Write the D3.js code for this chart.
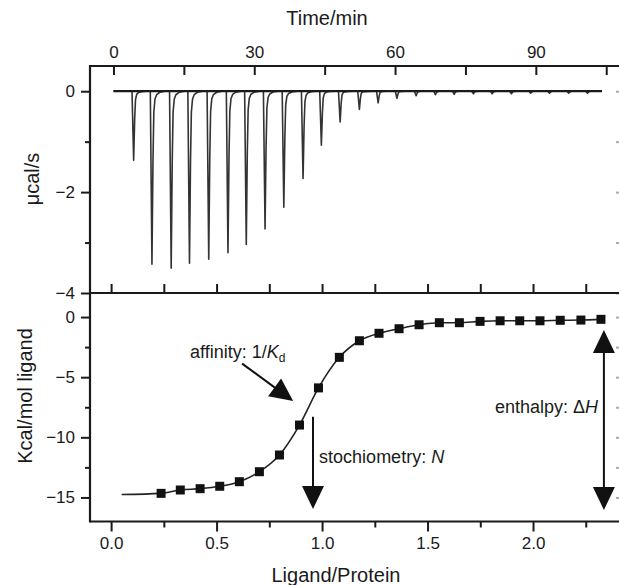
<!DOCTYPE html>
<html><head><meta charset="utf-8">
<script src="https://cdn.jsdelivr.net/npm/d3@7"></script>
<style>
body{margin:0;background:#fff}
svg{display:block}
text{font-family:"Liberation Sans",Arial,Helvetica,sans-serif;fill:#1a1a1a}
</style>
</head><body>
<svg id="c" width="619" height="585"></svg>
<script>
// ---------- data ----------
// Upper panel: raw ITC thermogram, one exothermic peak per injection
const injectionTimes = [4.3, 8.2, 12.3, 16.2, 20.3, 24.4, 28.3, 32.3, 36.3, 40.4, 44.3, 48.3, 52.4,
                        56.4, 60.4, 64.5, 68.6, 72.6, 76.7, 80.7, 84.8, 88.9, 92.9, 97.0, 101.0];
const peakHeights = [-1.37, -3.43, -3.51, -3.41, -3.33, -3.20, -3.04, -2.73, -2.30, -1.73, -1.07, -0.61, -0.36,
                     -0.23, -0.14, -0.09, -0.07, -0.06, -0.05, -0.05, -0.05, -0.04, -0.04, -0.04, -0.04];
// shape of one peak (minutes relative to the peak, fraction of peak depth)
const peakProfileTime = [-0.35, 0, 0.22, 0.4, 0.65, 1.0, 1.7, 2.8];
const peakProfileFrac = [0, 1, 0.4, 0.12, 0.045, 0.02, 0.006, 0];
const baselineTimes = [0, 104.1];

// Lower panel: integrated heats
const molarRatio = [0.237, 0.328, 0.422, 0.515, 0.608, 0.703, 0.798, 0.893, 0.983, 1.082, 1.177, 1.270,
                    1.365, 1.460, 1.556, 1.651, 1.749, 1.844, 1.937, 2.033, 2.129, 2.227, 2.322];
const heatPerMol = [-14.66, -14.38, -14.27, -14.07, -13.69, -12.86, -11.47, -8.98, -5.89, -3.35, -1.97, -1.35,
                    -0.97, -0.64, -0.47, -0.47, -0.36, -0.31, -0.31, -0.31, -0.27, -0.25, -0.19];
const fitRatio = [0.05].concat(molarRatio);
const fitHeat = [-14.75].concat(heatPerMol);

// ticks
const timeTicks = [0, 30, 60, 90];
const timeMinorTicks = [15, 45, 75, 105];
const powerTicks = [0, -2, -4];
const powerMinorTicks = [-1, -3];
const ratioTicks = [0, 0.5, 1.0, 1.5, 2.0];
const ratioMinorTicks = [0.25, 0.75, 1.25, 1.75, 2.25];
const ratioAllTicks = [0, 0.25, 0.5, 0.75, 1.0, 1.25, 1.5, 1.75, 2.0, 2.25];
const heatTicks = [0, -5, -10, -15];
const heatMinorTicks = [-2.5, -7.5, -12.5];

// annotations (data units of the lower panel)
const affinityArrow = [[0.621, -3.87], [0.863, -6.98]];
const affinityLabel = [0.374, -3.41];
const stoichArrow = [[0.957, -8.29], [0.957, -15.96]];
const stoichLabel = [0.986, -12.14];
const enthalpyArrow = [[2.336, -1.08], [2.336, -16.04]];
const enthalpyLabel = [2.308, -7.98];

// ---------- layout ----------
const L = 90, R = 625, T1 = 66, B1 = 293, B2 = 521.5;
const svg = d3.select("#c");

const xTime = d3.scaleLinear().domain([-5, 109]).range([L, R]);
const yPow = d3.scaleLinear().domain([-4, 0.5]).range([B1, T1]);
const xRat = d3.scaleLinear().domain([-0.1, 2.436]).range([L, R]);
const yHeat = d3.scaleLinear().domain([-17, 2]).range([B2, B1]);

const fmtNum = d => d3.format("")(d);
const fmtRat = d3.format(".1f");

function styleAxis(g, color) {
  g.select(".domain").remove();
  g.selectAll("line").attr("stroke", color || "#1a1a1a").attr("stroke-width", 2);
  g.selectAll("text").attr("font-size", 17).attr("fill", "#1a1a1a").attr("font-family", null);
}

// ---------- upper panel axes ----------
svg.append("g").attr("transform", `translate(0,${T1})`)
  .call(d3.axisTop(xTime).tickValues(timeTicks).tickSize(-9).tickPadding(8).tickFormat(fmtNum))
  .call(g => styleAxis(g));
svg.append("g").attr("transform", `translate(0,${T1})`)
  .call(d3.axisTop(xTime).tickValues(timeMinorTicks).tickSize(-9).tickFormat(""))
  .call(g => styleAxis(g));
svg.append("g").attr("transform", `translate(${L},0)`)
  .call(d3.axisLeft(yPow).tickValues(powerTicks).tickSize(9).tickPadding(6).tickFormat(fmtNum))
  .call(g => styleAxis(g));
svg.append("g").attr("transform", `translate(${L},0)`)
  .call(d3.axisLeft(yPow).tickValues(powerMinorTicks).tickSize(5).tickFormat(""))
  .call(g => styleAxis(g));
svg.append("g").attr("transform", `translate(${R},0)`)
  .call(d3.axisRight(yPow).tickValues(powerTicks.concat(powerMinorTicks)).tickSize(-9).tickFormat(""))
  .call(g => styleAxis(g, "#aaa"));

// ---------- lower panel axes ----------
svg.append("g").attr("transform", `translate(0,${B1})`)
  .call(d3.axisBottom(xRat).tickValues(ratioAllTicks).tickSize(-9).tickFormat(""))
  .call(g => styleAxis(g));
svg.append("g").attr("transform", `translate(0,${B2})`)
  .call(d3.axisBottom(xRat).tickValues(ratioTicks).tickSize(10).tickPadding(5).tickFormat(fmtRat))
  .call(g => styleAxis(g));
svg.append("g").attr("transform", `translate(0,${B2})`)
  .call(d3.axisBottom(xRat).tickValues(ratioMinorTicks).tickSize(6).tickFormat(""))
  .call(g => styleAxis(g));
svg.append("g").attr("transform", `translate(${L},0)`)
  .call(d3.axisLeft(yHeat).tickValues(heatTicks).tickSize(9).tickPadding(6).tickFormat(fmtNum))
  .call(g => styleAxis(g));
svg.append("g").attr("transform", `translate(${L},0)`)
  .call(d3.axisLeft(yHeat).tickValues(heatMinorTicks).tickSize(5).tickFormat(""))
  .call(g => styleAxis(g));
svg.append("g").attr("transform", `translate(${R},0)`)
  .call(d3.axisRight(yHeat).tickValues(heatTicks.concat(heatMinorTicks)).tickSize(-9).tickFormat(""))
  .call(g => styleAxis(g, "#aaa"));

// frame lines
const frame = svg.append("g").attr("stroke", "#1a1a1a").attr("stroke-width", 2.2).attr("fill", "none");
frame.append("line").attr("x1", L).attr("x2", R).attr("y1", T1).attr("y2", T1);
frame.append("line").attr("x1", L).attr("x2", R).attr("y1", B1).attr("y2", B1);
frame.append("line").attr("x1", L).attr("x2", R).attr("y1", B2).attr("y2", B2);
frame.append("line").attr("x1", L).attr("x2", L).attr("y1", T1 - 1).attr("y2", B2 + 1);

// ---------- thermogram ----------
const trace = [[baselineTimes[0], 0]];
injectionTimes.forEach((t, i) => {
  peakProfileTime.forEach((dt, j) => trace.push([t + dt, peakHeights[i] * peakProfileFrac[j]]));
});
trace.push([baselineTimes[1], 0]);
svg.append("path").datum(trace)
  .attr("fill", "none").attr("stroke", "#333").attr("stroke-width", 1.6).attr("stroke-linejoin", "round")
  .attr("d", d3.line().x(d => xTime(d[0])).y(d => yPow(d[1])));
// slightly heavier baseline
svg.append("path").datum(baselineTimes.map(t => [t, 0]))
  .attr("fill", "none").attr("stroke", "#1a1a1a").attr("stroke-width", 2.2)
  .attr("d", d3.line().x(d => xTime(d[0])).y(d => yPow(d[1])));

// ---------- binding isotherm ----------
svg.append("path").datum(fitRatio.map((x, i) => [x, fitHeat[i]]))
  .attr("fill", "none").attr("stroke", "#222").attr("stroke-width", 1.6)
  .attr("d", d3.line().curve(d3.curveMonotoneX).x(d => xRat(d[0])).y(d => yHeat(d[1])));
const sq = 9;
svg.append("g").selectAll("rect").data(molarRatio.map((x, i) => [x, heatPerMol[i]])).join("rect")
  .attr("x", d => xRat(d[0]) - sq / 2).attr("y", d => yHeat(d[1]) - sq / 2)
  .attr("width", sq).attr("height", sq).attr("fill", "#111");

// ---------- annotations ----------
function arrowHead(g, tip, from, len, wid) {
  const dx = tip[0] - from[0], dy = tip[1] - from[1], d = Math.hypot(dx, dy);
  const ux = dx / d, uy = dy / d;
  const bx = tip[0] - ux * len, by = tip[1] - uy * len;
  g.append("path").attr("fill", "#111")
    .attr("d", `M${tip[0]},${tip[1]}L${bx - uy * wid / 2},${by + ux * wid / 2}L${bx + uy * wid / 2},${by - ux * wid / 2}Z`);
  return [bx + ux * 2, by + uy * 2];
}
const ann = svg.append("g");
function drawArrow(pts, both) {
  const a = [xRat(pts[0][0]), yHeat(pts[0][1])], b = [xRat(pts[1][0]), yHeat(pts[1][1])];
  const end = arrowHead(ann, b, a, 23, 22);
  let start = a;
  if (both) start = arrowHead(ann, a, b, 23, 22);
  ann.append("line").attr("x1", start[0]).attr("y1", start[1]).attr("x2", end[0]).attr("y2", end[1])
    .attr("stroke", "#111").attr("stroke-width", 2);
}
drawArrow(affinityArrow, false);
drawArrow(stoichArrow, false);
drawArrow(enthalpyArrow, true);

const t1 = ann.append("text").attr("x", xRat(affinityLabel[0])).attr("y", yHeat(affinityLabel[1])).attr("font-size", 18);
t1.append("tspan").text("affinity: 1/");
t1.append("tspan").attr("font-style", "italic").text("K");
t1.append("tspan").attr("font-size", 12).attr("dy", 4).text("d");

const t2 = ann.append("text").attr("x", xRat(stoichLabel[0])).attr("y", yHeat(stoichLabel[1])).attr("font-size", 18);
t2.append("tspan").text("stochiometry: ");
t2.append("tspan").attr("font-style", "italic").text("N");

const t3 = ann.append("text").attr("x", xRat(enthalpyLabel[0])).attr("y", yHeat(enthalpyLabel[1]))
  .attr("font-size", 18).attr("text-anchor", "end");
t3.append("tspan").text("enthalpy: \u0394");
t3.append("tspan").attr("font-style", "italic").text("H");

// ---------- axis titles ----------
svg.append("text").attr("x", 327).attr("y", 25).attr("text-anchor", "middle").attr("font-size", 20).text("Time/min");
svg.append("text").attr("x", 336).attr("y", 582).attr("text-anchor", "middle").attr("font-size", 20).text("Ligand/Protein");
svg.append("text").attr("transform", "translate(39,179) rotate(-90)").attr("text-anchor", "middle").attr("font-size", 20).text("\u03bccal/s");
svg.append("text").attr("transform", "translate(32,396) rotate(-90)").attr("text-anchor", "middle").attr("font-size", 20).text("Kcal/mol ligand");
</script>
</body></html>
